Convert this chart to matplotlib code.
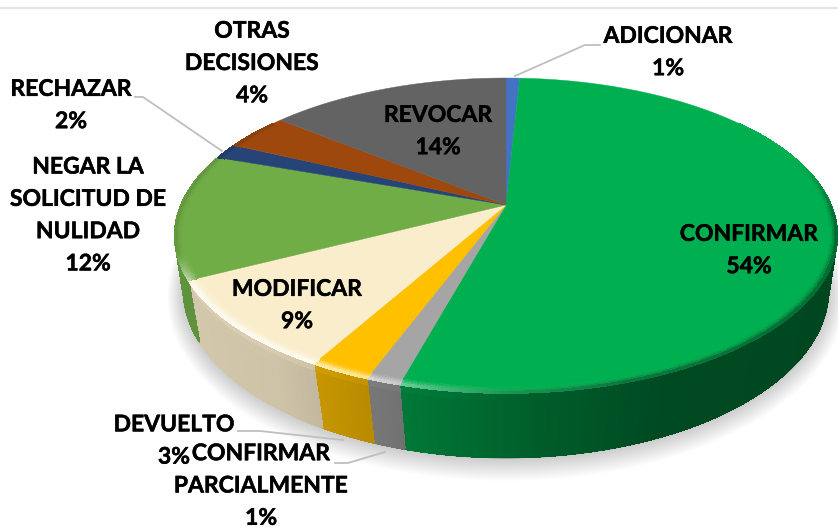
import numpy as np
import matplotlib
matplotlib.use("Agg")
import matplotlib.pyplot as plt
import matplotlib.patheffects as pe
from matplotlib.collections import PolyCollection, LineCollection
from matplotlib.colors import to_rgb

# data, clockwise from 12 o'clock
categories = ["ADICIONAR", "CONFIRMAR", "CONFIRMAR PARCIALMENTE", "DEVUELTO", "MODIFICAR",
              "NEGAR LA SOLICITUD DE NULIDAD", "RECHAZAR", "OTRAS DECISIONES", "REVOCAR"]
values = [0.8, 53.5, 1.4, 2.5, 9.3, 12.9, 1.6, 3.8, 14.2]
colors = ["#4472C4", "#00B050", "#A5A5A5", "#FFC000", "#FAEDCB",
          "#70AD47", "#264478", "#9E480E", "#636363"]
label_texts = ["ADICIONAR\n1%", "CONFIRMAR\n54%", "CONFIRMAR\nPARCIALMENTE\n1%", "DEVUELTO\n3%",
               "MODIFICAR\n9%", "NEGAR LA\nSOLICITUD DE\nNULIDAD\n12%", "RECHAZAR\n2%",
               "OTRAS\nDECISIONES\n4%", "REVOCAR\n14%"]
label_pos = [(668, 52.5), (749, 250.5), (261, 486), (174, 441), (297, 305.5),
             (88, 215.5), (71, 105.5), (252, 63.5), (438, 131.5)]
leaders = [[(515, 76), (585, 45), (600, 45)],
           [(385, 452), (348, 463), (335, 463)],
           [(343, 440), (260, 431), (238, 431)],
           [(222, 151), (143, 97), (135, 97)]]

plt.rcParams['font.family'] = ['Lato', 'DejaVu Sans']
fig = plt.figure(figsize=(8.38, 5.29), dpi=100)
ax = fig.add_axes([0, 0, 1, 1])
ax.set_xlim(0, 838)
ax.set_ylim(529, 0)
ax.axis("off")

def project(theta, r=1.0, level=0.0):
    """Perspective projection of a disc point; level 0 = top face, 1 = bottom face."""
    u = r * np.sin(theta)
    v = -r * np.cos(theta)
    a, b, p, y0 = (325, 151.6, 0.1937, 205) if level == 0 else (318, 163, 0.1667, 262)
    den = 1 - p * v
    return 506 + a * u / den, y0 + b * v / den

edges = np.concatenate([[0], np.cumsum(values)]) / np.sum(values) * 2 * np.pi
rgb = [np.array(to_rgb(c)) for c in colors]
white = np.ones(3)

# soft shadow
t = np.linspace(0, 2 * np.pi, 361)
for k in range(1, 13):
    xs = 506 + (323 + 1.3 * k) * np.sin(t)
    ys = 291 + k * 0.5 + (168 + 1.3 * k) * np.cos(t)
    ax.fill(xs, ys, color="black", alpha=0.016, lw=0, zorder=1)

# side wall
polys, cols, rim_segs, rim_cols = [], [], [], []
levels = np.linspace(0, 1, 9)
for i, c in enumerate(rgb):
    th = np.arange(edges[i], edges[i + 1] + 0.004, 0.008)
    th[-1] = edges[i + 1]
    for a0, a1 in zip(th[:-1], th[1:]):
        mid = 0.5 * (a0 + a1)
        cd = np.cos(mid)
        if cd > 0.45:
            continue
        u = np.sin(mid)
        shade = np.interp(u, [-1, -0.6, -0.3, 0.1, 0.4, 1], [0.85, 0.82, 0.70, 0.52, 0.42, 0.40])
        x0a, y0a = project(a0)
        x0b, y0b = project(a1)
        x1a, y1a = project(a0, level=1)
        x1b, y1b = project(a1, level=1)
        col_base = c * shade
        for s0, s1 in zip(levels[:-1], levels[1:]):
            sm = 0.5 * (s0 + s1)
            fade = np.clip((-0.3 - cd) / 0.2, 0, 1)
            hl = np.interp(u, [-1, -0.5, 0, 1], [0.35, 0.30, 0.0, 0.0]) * np.clip(1 - sm / 0.2, 0, 1) * fade
            col = col_base * (1 - hl) + c * hl
            polys.append([(x0a + (x1a - x0a) * s0, y0a + (y1a - y0a) * s0),
                          (x0b + (x1b - x0b) * s0, y0b + (y1b - y0b) * s0),
                          (x0b + (x1b - x0b) * s1, y0b + (y1b - y0b) * s1),
                          (x0a + (x1a - x0a) * s1, y0a + (y1a - y0a) * s1)])
            cols.append(col)
        rim_segs.append([(x1a, y1a), (x1b, y1b)])
        rim_cols.append(col_base)
ax.add_collection(PolyCollection(polys, facecolors=cols, edgecolors=cols, linewidths=0.5,
                                 antialiased=False, zorder=2))
ax.add_collection(LineCollection(rim_segs, colors=rim_cols, linewidths=1.0, capstyle="round", zorder=2))

# top face
for i, c in enumerate(rgb):
    th = np.linspace(edges[i], edges[i + 1], max(3, int((edges[i + 1] - edges[i]) * 120)))
    xs, ys = project(th)
    ax.fill(np.r_[506, xs], np.r_[205, ys], color=c, lw=0.3, ec=c, zorder=3)

# bevelled rim of the top face
polys, cols = [], []
radii = np.linspace(0.975, 1.0, 5)
for i, c in enumerate(rgb):
    th = np.arange(edges[i], edges[i + 1] + 0.004, 0.008)
    th[-1] = edges[i + 1]
    for a0, a1 in zip(th[:-1], th[1:]):
        mid = 0.5 * (a0 + a1)
        u, cd = np.sin(mid), np.cos(mid)
        if cd > 0.6:
            continue
        light = np.interp(u, [-1, -0.5, 0, 1], [0.75, 0.8, 0.12, 0.0]) * np.clip((-0.3 - cd) / 0.2, 0, 1)
        dark = np.interp(u, [-0.3, 0.3, 1], [0.0, 0.45, 0.5]) * np.clip((0.3 - cd) / 0.4, 0, 1)
        left_dark = 0.15 * np.clip((cd + 0.45) / 0.2, 0, 1) * (u < 0)
        for r0, r1 in zip(radii[:-1], radii[1:]):
            w = (0.5 * (r0 + r1) - 0.975) / 0.025
            col = c * (1 - light * w) + white * light * w
            col = col * (1 - (dark + left_dark) * w ** 2)
            xa, ya = project(a0, r0)
            xb, yb = project(a1, r0)
            xc, yc = project(a1, r1)
            xd, yd = project(a0, r1)
            polys.append([(xa, ya), (xb, yb), (xc, yc), (xd, yd)])
            cols.append(col)
ax.add_collection(PolyCollection(polys, facecolors=cols, edgecolors=cols, linewidths=0.5,
                                 antialiased=False, zorder=4))

# frame line at the top
ax.plot([0, 838], [8, 8], color="#E4E4E4", lw=1.5, zorder=0, solid_capstyle="butt")

# leaders
for pts in leaders:
    ax.plot(*zip(*pts), color="#BFBFBF", lw=1.3, zorder=5)

# labels, one text per line at a fixed line pitch
pitch = 32.3
stroke = [pe.withStroke(linewidth=0.35, foreground="black")]
for txt, (x, y) in zip(label_texts, label_pos):
    lines = txt.split("\n")
    for j, line in enumerate(lines):
        ax.text(x, y + (j - (len(lines) - 1) / 2) * pitch, line, ha="center", va="center",
                fontsize=16.5, fontweight="bold", color="black", zorder=6, clip_on=False,
                path_effects=stroke)

fig.savefig("out.png", dpi=100, facecolor="white")
